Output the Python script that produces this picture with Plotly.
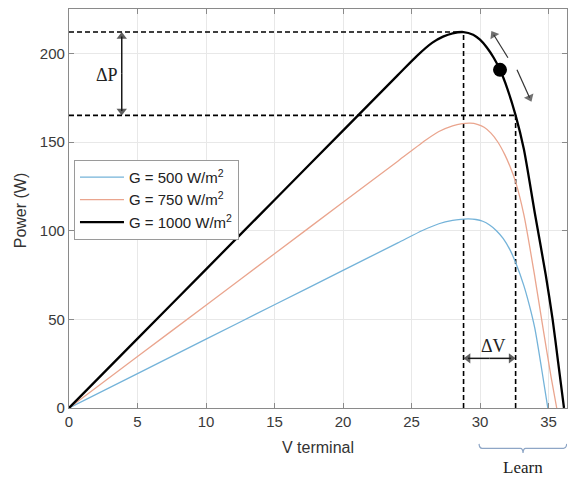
import plotly.graph_objects as go

# ---- data ----
v_500 = [0, 5, 10, 15, 20, 24, 25.8, 27, 28, 28.6, 29.15, 29.7, 30.2, 30.7, 31.2, 31.7, 32.2, 32.6, 33.2, 33.6, 34.0, 34.5, 34.95]
p_500 = [0, 19.4, 38.8, 58.2, 77.6, 93.1, 100.1, 103.9, 105.8, 106.4, 106.6, 106.3, 105.3, 103.2, 100.0, 95.5, 89.0, 82.0, 69.0, 58.0, 45.0, 22.0, 0]

v_750 = [0, 5, 10, 15, 20, 24, 26.1, 27, 28, 28.7, 29.27, 29.8, 30.3, 30.8, 31.3, 31.8, 32.2, 32.6, 33.2, 34.0, 34.6, 35.2, 35.6]
p_750 = [0, 29, 58, 87, 116, 139.2, 151.4, 155.9, 159.1, 160.3, 160.6, 160.0, 158.3, 155.0, 150.0, 143.0, 136.0, 127.5, 109.0, 74.0, 45.0, 17.0, 0]

v_1000 = [0, 5, 10, 15, 20, 24, 25.4, 26.5, 27.3, 28, 28.8, 29.5, 30.0, 30.5, 31.0, 31.46, 32.0, 32.6, 33.2, 34.0, 34.8, 35.3, 35.7, 36.13]
p_1000 = [0, 39.1, 78.2, 117.3, 156.4, 187.7, 198.6, 205.9, 209.4, 211.3, 212.0, 210.5, 207.7, 203.3, 197.5, 190.7, 180.0, 165.0, 146.0, 110.0, 75.0, 50.0, 26.0, 0]

series_names = ["G = 500 W/m<sup>2</sup>", "G = 750 W/m<sup>2</sup>", "G = 1000 W/m<sup>2</sup>"]

# operating point and construction lines
op_v = [31.46]
op_p = [190.7]
p_max = 212
v_mp = 28.8
p_learn = 165
v_learn = 32.6
dp_arrow_v = 3.85
dv_arrow_p = 28
# perturbation arrows: (tail_v, tail_p, head_v, head_p)
pert_up = [32.04, 197.5, 31.0, 210.5]
pert_down = [32.70, 190.7, 33.62, 175.0]

x_ticks = [0, 5, 10, 15, 20, 25, 30, 35]
y_ticks = [0, 50, 100, 150, 200]

fig = go.Figure()

# dashed construction lines (behind curves)
dash_style = dict(color="black", width=1.6, dash="5px,3px")
for xs, ys in [([0, v_mp], [p_max, p_max]), ([v_mp, v_mp], [0, p_max]),
               ([0, v_learn], [p_learn, p_learn]), ([v_learn, v_learn], [0, p_learn])]:
    fig.add_trace(go.Scatter(x=xs, y=ys, mode="lines", line=dash_style, showlegend=False, hoverinfo="skip"))

fig.add_trace(go.Scatter(x=v_500, y=p_500, mode="lines", name=series_names[0],
                         line=dict(color="#74b3d9", width=1.3, shape="spline", smoothing=0.7)))
fig.add_trace(go.Scatter(x=v_750, y=p_750, mode="lines", name=series_names[1],
                         line=dict(color="#eaa58e", width=1.3, shape="spline", smoothing=0.7)))
fig.add_trace(go.Scatter(x=v_1000, y=p_1000, mode="lines", name=series_names[2],
                         line=dict(color="black", width=2.3, shape="spline", smoothing=0.7)))

fig.add_trace(go.Scatter(x=op_v, y=op_p, mode="markers", marker=dict(color="black", size=14),
                         showlegend=False, hoverinfo="skip"))


def arrow(x0, y0, x1, y1, color, width, size):
    fig.add_trace(go.Scatter(x=[x0, x1], y=[y0, y1], mode="lines+markers",
                             line=dict(color=color, width=width),
                             marker=dict(symbol="triangle-up", angleref="previous", size=[0, size],
                                         color=color, line=dict(width=0)),
                             showlegend=False, hoverinfo="skip"))


dp_mid = (p_max + p_learn) / 2
arrow(dp_arrow_v, dp_mid, dp_arrow_v, p_max - 2.5, "#1a1a1a", 1.5, 9)
arrow(dp_arrow_v, dp_mid, dp_arrow_v, p_learn + 2.5, "#1a1a1a", 1.5, 9)
dv_mid = (v_mp + v_learn) / 2
arrow(dv_mid, dv_arrow_p, v_mp + 0.33, dv_arrow_p, "#1a1a1a", 1.5, 9)
arrow(dv_mid, dv_arrow_p, v_learn - 0.33, dv_arrow_p, "#1a1a1a", 1.5, 9)
arrow(*pert_up, "#333", 1.2, 9)
arrow(*pert_down, "#333", 1.2, 9)

serif = "Liberation Serif, Times New Roman, serif"
sans = "Liberation Sans, Arial, sans-serif"
annotations = [
    dict(x=2.77, y=188, xref="x", yref="y", text="ΔP", showarrow=False,
         xanchor="center", yanchor="middle", font=dict(family=serif, size=18, color="#222")),
    dict(x=31.0, y=35, xref="x", yref="y", text="ΔV", showarrow=False,
         xanchor="center", yanchor="middle", font=dict(family=serif, size=18, color="#222")),
    dict(x=33.12, y=-0.148, xref="x", yref="paper", text="Learn", showarrow=False,
         xanchor="center", yanchor="middle", font=dict(family=serif, size=17, color="#222")),
    dict(x=0.5, y=-0.098, xref="paper", yref="paper", text="V terminal", showarrow=False,
         xanchor="center", yanchor="middle", font=dict(family=sans, size=16, color="#333")),
    dict(x=-0.098, y=0.496, xref="paper", yref="paper", text="Power (W)", showarrow=False,
         xanchor="center", yanchor="middle", textangle=-90, font=dict(family=sans, size=16, color="#333")),
]

shapes = [dict(type="path", xref="x", yref="paper",
               path="M 29.93,-0.090 Q 29.95,-0.101 30.15,-0.101 L 32.95,-0.101 Q 33.12,-0.101 33.14,-0.113 "
                    "Q 33.16,-0.101 33.33,-0.101 L 36.1,-0.101 Q 36.3,-0.101 36.33,-0.090",
               line=dict(color="#8ea6c6", width=1.2))]

axis_common = dict(showgrid=True, gridcolor="#e8e8e8", gridwidth=1, zeroline=False,
                   showline=True, linecolor="#8a8a8a", linewidth=1.2, mirror="ticks",
                   ticks="inside", ticklen=5, tickcolor="#8a8a8a",
                   tickfont=dict(family=sans, size=15, color="#3a3a3a"))

fig.update_layout(
    width=568, height=478,
    margin=dict(l=69, r=1, t=9, b=70),
    plot_bgcolor="white", paper_bgcolor="white",
    xaxis=dict(range=[0, 36.35], tickvals=x_ticks, **axis_common),
    yaxis=dict(range=[0, 225], tickvals=y_ticks, **axis_common),
    legend=dict(x=0.01, y=0.622, xanchor="left", yanchor="top", bgcolor="white",
                bordercolor="#9a9a9a", borderwidth=1, font=dict(family=sans, size=15, color="#222"),
                tracegroupgap=0, itemwidth=44),
    annotations=annotations,
    shapes=shapes,
    showlegend=True,
)

fig.write_html("out.html", config={"displayModeBar": False},
               post_script="document.body.style.margin='0';document.body.style.overflow='hidden';")
